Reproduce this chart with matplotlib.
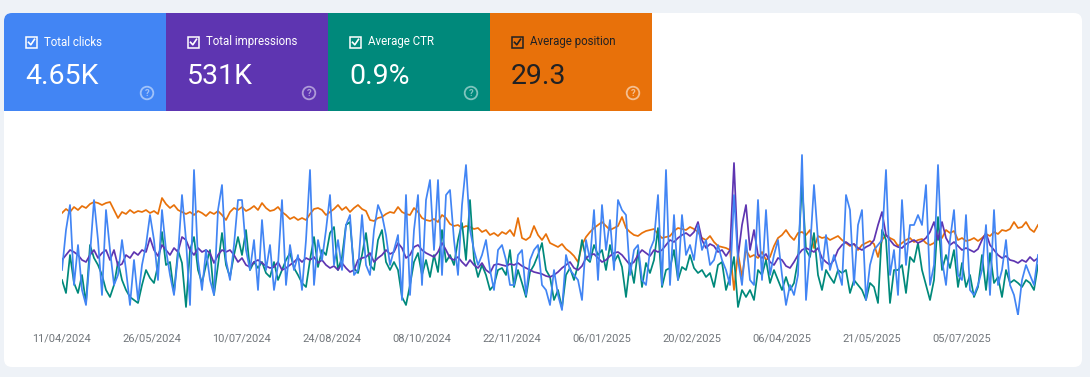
import numpy as np
import pandas as pd
import matplotlib
matplotlib.use("Agg")
import matplotlib.pyplot as plt
import matplotlib.dates as mdates
from matplotlib.patches import Rectangle, FancyBboxPatch, Circle
from matplotlib.lines import Line2D
from matplotlib.transforms import IdentityTransform

plt.rcParams['font.family'] = ['Roboto', 'DejaVu Sans']

# Daily data sampled every second day from 11/04/2024
start_date = "2024-04-11"

clicks = [
    9, 17, 22, 6, 14, 5, 2, 12, 23, 15,
    4, 21, 13, 6, 8, 15, 9, 2, 11, 3,
    10, 14, 20, 15, 7, 21, 13, 8, 4, 12,
    24, 15, 2, 29, 11, 5, 13, 7, 4, 21,
    26, 11, 7, 14, 23, 23, 13, 9, 15, 5,
    19, 9, 14, 5, 10, 23, 6, 14, 9, 12,
    5, 15, 29, 6, 15, 11, 17, 24, 10, 15,
    9, 18, 20, 8, 9, 20, 10, 8, 17, 22,
    20, 16, 10, 13, 16, 3, 24, 4, 17, 24,
    6, 23, 27, 13, 27, 8, 24, 25, 15, 8,
    22, 30, 17, 13, 10, 12, 15, 9, 5, 13,
    14, 11, 6, 6, 12, 13, 4, 11, 13, 14,
    6, 5, 2, 9, 4, 1, 12, 9, 8, 7,
    3, 15, 11, 21, 7, 22, 13, 19, 9, 23,
    21, 20, 8, 13, 14, 7, 6, 13, 15, 24,
    6, 29, 6, 20, 7, 20, 12, 14, 11, 18,
    13, 15, 10, 11, 14, 11, 9, 6, 24, 11,
    6, 15, 7, 6, 23, 7, 21, 8, 12, 15,
    8, 2, 6, 4, 8, 32, 3, 13, 26, 15,
    9, 16, 9, 12, 9, 6, 24, 21, 6, 18,
    21, 3, 10, 13, 14, 15, 29, 8, 13, 4,
    23, 10, 18, 18, 20, 18, 26, 6, 10, 30,
    11, 6, 15, 21, 8, 7, 20, 5, 4, 6,
    9, 18, 4, 21, 6, 9, 15, 6, 4, 0,
    7, 10, 8, 6, 12,
]

impressions = [
    1100, 1200, 1300, 1260, 1200, 1100, 1060, 1200, 1300, 1140,
    1240, 1300, 1100, 1300, 980, 1020, 1200, 1140, 1260, 1200,
    1300, 1260, 1540, 1300, 1180, 1400, 1300, 1200, 1340, 1260,
    1560, 1500, 1300, 1200, 1340, 1260, 1300, 1240, 1040, 1200,
    1300, 1260, 1300, 1200, 1060, 1140, 1000, 960, 1060, 1100,
    1040, 980, 940, 960, 1060, 900, 940, 1000, 1060, 1140,
    1060, 1140, 1100, 1160, 1040, 1100, 1000, 940, 980, 900,
    1040, 940, 860, 900, 1100, 1140, 1160, 1240, 1060, 1140,
    1200, 1300, 1220, 1260, 1440, 1340, 1140, 1200, 1360, 1400,
    1300, 1240, 1200, 1160, 1260, 1440, 1300, 1140, 1100, 1160,
    1060, 980, 1100, 1000, 940, 1040, 900, 840, 1000, 1020,
    1000, 980, 1020, 1000, 1040, 980, 940, 900, 860, 840,
    820, 780, 760, 800, 860, 940, 1000, 1060, 940, 900,
    980, 1140, 1200, 1220, 1140, 1060, 1100, 1180, 1240, 1260,
    1200, 1100, 1000, 1060, 1200, 1300, 1240, 1180, 1300, 1260,
    1300, 1400, 1500, 1460, 1540, 1600, 1640, 1580, 1660, 1860,
    1500, 1340, 1420, 1380, 1260, 1300, 1180, 1300, 3040, 1160,
    1800, 2200, 1300, 1700, 1200, 1140, 1220, 1060, 1000, 1140,
    1100, 980, 940, 1060, 1200, 1300, 1340, 1300, 1260, 1340,
    1140, 1060, 1000, 1100, 1300, 1400, 1460, 1400, 1420, 1340,
    1300, 1360, 1400, 1500, 1800, 2060, 1600, 1500, 1400, 1360,
    1340, 1420, 1460, 1500, 1440, 1480, 1540, 1660, 1860, 1500,
    1860, 1540, 1400, 1460, 1380, 1300, 1340, 1300, 1260, 1320,
    1500, 1640, 1400, 1300, 1200, 1140, 1180, 1100, 1080, 1040,
    1100, 1060, 1160, 1080, 1140,
]

ctr = [
    0.70, 0.44, 1.20, 0.64, 0.44, 0.80, 0.24, 1.40, 1.14, 1.00,
    0.80, 0.50, 0.36, 0.60, 1.06, 0.70, 0.50, 0.36, 0.30, 0.24,
    0.60, 0.90, 0.74, 0.64, 1.00, 1.66, 1.00, 1.06, 0.44, 1.30,
    1.04, 0.16, 1.30, 1.56, 0.90, 0.64, 1.00, 1.30, 0.40, 1.00,
    1.64, 1.00, 0.76, 1.20, 1.56, 1.20, 1.70, 0.90, 1.06, 0.94,
    1.06, 0.84, 0.76, 1.06, 0.70, 0.90, 1.10, 1.24, 0.94, 0.80,
    0.64, 0.56, 1.10, 1.56, 0.96, 1.30, 1.20, 1.64, 1.76, 0.90,
    1.16, 1.80, 1.86, 0.94, 0.84, 1.20, 1.64, 1.00, 0.90, 1.50,
    1.70, 1.06, 0.90, 1.06, 0.90, 0.36, 0.20, 0.60, 1.06, 1.24,
    0.80, 1.10, 0.76, 1.20, 0.86, 1.70, 1.06, 1.20, 1.00, 1.50,
    1.84, 1.10, 2.30, 1.10, 0.76, 1.00, 0.80, 0.50, 0.60, 0.90,
    0.94, 0.80, 1.30, 0.56, 0.90, 0.64, 0.36, 0.86, 1.00, 1.20,
    1.44, 0.90, 0.76, 0.30, 0.50, 0.14, 0.80, 0.94, 0.70, 1.00,
    1.50, 1.14, 1.06, 1.40, 1.20, 1.30, 0.90, 1.40, 1.06, 1.20,
    0.96, 0.36, 1.04, 0.64, 1.30, 0.56, 1.04, 0.84, 1.10, 1.74,
    0.56, 0.90, 0.94, 1.30, 0.70, 0.96, 0.90, 1.20, 0.94, 0.84,
    0.90, 0.76, 0.84, 0.56, 1.00, 1.06, 0.50, 0.76, 1.16, 0.16,
    0.50, 0.36, 0.50, 0.30, 0.90, 0.80, 1.10, 0.64, 0.90, 0.70,
    0.50, 0.76, 0.50, 0.64, 1.10, 2.64, 1.30, 1.16, 1.64, 0.80,
    0.50, 0.90, 0.76, 0.64, 0.90, 0.84, 0.90, 0.44, 0.70, 0.60,
    0.50, 0.30, 0.64, 0.56, 0.24, 1.70, 1.50, 0.24, 0.90, 0.90,
    1.00, 0.44, 1.16, 1.06, 1.44, 0.90, 0.60, 0.30, 0.70, 1.96,
    0.90, 1.20, 0.94, 1.30, 0.56, 1.04, 0.56, 0.80, 0.36, 0.56,
    1.20, 0.50, 1.24, 0.64, 0.76, 0.36, 0.90, 0.64, 0.70, 0.64,
    0.56, 0.70, 0.64, 0.50, 1.00,
]

position = [
    27.8, 27.4, 27.7, 27.2, 27.5, 27.1, 27.3, 26.9, 26.7, 26.8,
    27.0, 26.8, 26.7, 27.5, 28.3, 27.7, 27.9, 27.5, 27.8, 27.6,
    27.7, 27.5, 27.8, 27.6, 27.9, 26.3, 26.9, 27.3, 27.0, 27.5,
    27.7, 27.9, 27.7, 28.0, 27.6, 27.8, 28.1, 27.7, 27.9, 27.6,
    28.0, 28.5, 27.7, 27.3, 27.5, 27.2, 27.6, 27.4, 27.1, 27.5,
    26.8, 27.3, 27.6, 27.5, 27.2, 27.7, 28.0, 28.4, 28.2, 28.5,
    28.3, 28.5, 27.9, 27.4, 27.3, 27.5, 28.0, 27.7, 27.4, 27.0,
    27.5, 27.2, 27.7, 27.3, 27.0, 27.4, 27.6, 28.5, 28.6, 28.3,
    28.2, 27.9, 27.7, 27.8, 27.2, 27.7, 27.9, 28.0, 27.3, 27.7,
    28.3, 28.5, 28.6, 28.4, 28.7, 28.0, 28.3, 28.9, 29.1, 29.0,
    29.3, 29.1, 29.2, 29.4, 29.3, 29.7, 29.5, 30.0, 29.8, 30.1,
    29.7, 29.9, 29.5, 30.1, 28.3, 30.3, 30.5, 30.2, 29.1, 30.0,
    30.5, 29.9, 30.8, 31.0, 31.2, 30.9, 31.4, 31.7, 32.1, 32.7,
    31.0, 30.2, 29.7, 29.3, 29.0, 28.7, 29.1, 29.5, 29.3, 29.1,
    28.2, 29.3, 29.7, 30.0, 30.1, 29.8, 29.6, 29.5, 29.4, 29.9,
    30.3, 30.2, 30.1, 29.6, 29.3, 29.4, 29.5, 29.2, 29.4, 29.7,
    30.3, 30.5, 30.1, 30.7, 31.1, 31.2, 31.3, 31.5, 35.5, 31.8,
    34.2, 31.5, 32.2, 32.0, 32.3, 31.7, 32.5, 32.2, 31.1, 30.3,
    30.0, 29.5, 30.1, 30.5, 29.8, 29.7, 30.0, 29.5, 31.3, 30.1,
    30.3, 30.2, 30.5, 30.3, 30.1, 30.5, 30.8, 31.1, 30.9, 31.5,
    31.0, 30.8, 30.6, 30.9, 32.2, 30.5, 30.0, 30.3, 30.5, 31.1,
    30.8, 30.5, 30.3, 30.7, 30.5, 30.4, 30.8, 31.0, 30.8, 30.1,
    30.3, 29.5, 29.8, 29.6, 30.5, 30.3, 30.6, 30.5, 30.3, 30.6,
    30.3, 29.9, 30.1, 29.7, 29.9, 29.5, 29.6, 29.4, 28.7, 29.3,
    29.2, 28.7, 29.4, 29.7, 29.0,
]

metric_names = ["Total clicks", "Total impressions", "Average CTR", "Average position"]
metric_values = ["4.65K", "531K", "0.9%", "29.3"]
tile_colors = ["#4285f4", "#5e35b1", "#00897b", "#e8710a"]
text_colors = ["white", "white", "white", "#202124"]

dates = pd.date_range(start_date, periods=len(clicks), freq="2D")
tick_dates = pd.date_range(start_date, periods=11, freq="45D")

W, H = 1090, 377
px = IdentityTransform()

fig = plt.figure(figsize=(W / 100, H / 100), dpi=100)
fig.patch.set_facecolor("#eef2f7")

# White card
fig.add_artist(FancyBboxPatch((4, H - 367), 1078, 354, boxstyle="round,pad=0,rounding_size=8",
                              transform=px, fc="white", ec="none"))

# Metric tiles
tile_w = 162
for i, (name, val, col, tc) in enumerate(zip(metric_names, metric_values, tile_colors, text_colors)):
    x0 = 4 + i * tile_w
    if i == 0:
        fig.add_artist(FancyBboxPatch((x0, H - 111), tile_w, 98, boxstyle="round,pad=0,rounding_size=8",
                                      transform=px, fc=col, ec="none"))
        fig.add_artist(Rectangle((x0 + 10, H - 111), tile_w - 10, 98, transform=px, fc=col, ec="none"))
        fig.add_artist(Rectangle((x0, H - 111), tile_w, 88, transform=px, fc=col, ec="none"))
    else:
        fig.add_artist(Rectangle((x0, H - 111), tile_w, 98, transform=px, fc=col, ec="none"))

    # checkbox
    fig.add_artist(Rectangle((x0 + 22, H - 47.5), 10.5, 10.5, transform=px, fc="none", ec=tc, lw=1.1))
    fig.add_artist(Line2D([x0 + 24.5, x0 + 26.8, x0 + 30.5], [H - 42.3, H - 44.8, H - 39.3],
                          transform=px, color=tc, lw=1.2))
    fig.text(x0 + 40, H - 42, name, transform=px, color=tc, fontsize=8.3, va="center", ha="left")
    fig.text(x0 + 21, H - 84, val, transform=px, color=tc, fontsize=20.5, va="baseline", ha="left")

    # help icon
    hc = (1, 1, 1, 0.5) if i < 3 else (1, 1, 1, 0.55)
    fig.add_artist(Circle((x0 + 143, H - 93), 6.3, transform=px, fc="none", ec=hc, lw=1.3))
    fig.text(x0 + 143, H - 93.3, "?", transform=px, color=hc, fontsize=6.8, fontweight="bold",
             va="center", ha="center")

# Chart area
ax = fig.add_axes([62 / W, (H - 315) / H, (1038 - 62) / W, 170 / H])
ax_imp = ax.twinx()
ax_ctr = ax.twinx()
ax_pos = ax.twinx()

lw = 1.25
ax_pos.plot(dates, position, color="#e8710a", lw=lw)
ax_ctr.plot(dates, ctr, color="#00897b", lw=lw)
ax_imp.plot(dates, impressions, color="#5e35b1", lw=lw)
ax.plot(dates, clicks, color="#4285f4", lw=lw)

ax.set_zorder(4)
ax_imp.set_zorder(3)
ax_ctr.set_zorder(2)
ax_pos.set_zorder(1)
for a in (ax, ax_imp, ax_ctr, ax_pos):
    a.patch.set_visible(False)
    for s in a.spines.values():
        s.set_visible(False)
    a.set_yticks([])

ax.set_ylim(0, 34)
ax_imp.set_ylim(0, 3400)
ax_ctr.set_ylim(0, 3.4)
ax_pos.set_ylim(38, 21)

ax.set_xlim(dates[0], dates[-1])
ax.set_xticks(tick_dates)
ax.xaxis.set_major_formatter(mdates.DateFormatter("%d/%m/%Y"))
ax.tick_params(axis="x", length=0, pad=13, labelsize=7.9, labelcolor="#70757a")

fig.savefig("out.png", dpi=100, facecolor=fig.get_facecolor())
